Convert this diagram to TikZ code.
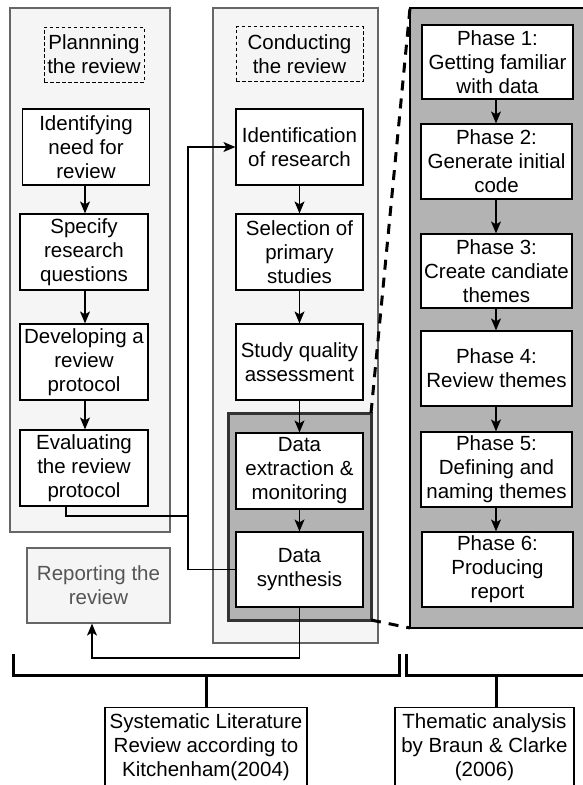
\documentclass[tikz,border=0pt]{standalone}
\usepackage{fontspec}
\setmainfont{Liberation Sans}
\usetikzlibrary{arrows.meta}
\definecolor{panelfill}{HTML}{F5F5F5}
\definecolor{panelline}{HTML}{666666}
\definecolor{darkfill}{HTML}{B3B3B3}
\definecolor{darkline}{HTML}{333333}
\definecolor{reporttext}{HTML}{555555}
\begin{document}
\begin{tikzpicture}[x=1pt,y=-1pt,
  every node/.style={font=\fontsize{20.5}{24}\selectfont, align=center, inner sep=1pt},
  panel/.style={draw=panelline, fill=panelfill, line width=1.2pt},
  darkpanel/.style={draw=darkline, fill=darkfill, line width=3pt},
  stepbox/.style={draw=black, fill=white, line width=1.2pt, minimum width=128pt, minimum height=76pt},
  phasebox/.style={draw=black, fill=white, line width=1.2pt, minimum width=151pt, minimum height=75pt},
  titlebox/.style={draw=black, line width=0.9pt, dash pattern=on 3.5pt off 2.5pt, minimum height=55pt},
  flow/.style={-{Stealth[length=12pt,width=10pt,inset=3pt]}, line width=1.2pt},
  wire/.style={line width=1.2pt},
  zoomline/.style={line width=3pt, dash pattern=on 10pt off 8pt},
  bracket/.style={line width=3pt},
  sourcebox/.style={draw=black, fill=white, line width=1.2pt, minimum height=80pt}
]
\useasboundingbox (0,0) rectangle (582,785);

% background panels
\draw[panel] (10,8) rectangle (170,532);
\draw[panel] (213,8) rectangle (378,643);
\draw[darkpanel] (228,413) rectangle (371,620);
\draw[draw=black, fill=darkfill, line width=1.5pt] (410,8) rectangle (590,628);

% zoom lines from the synthesis group to the thematic analysis panel
\draw[zoomline] (371,413) -- (410,8);
\draw[zoomline] (371,620) -- (410,628);

% planning phase
\node[titlebox, minimum width=100pt] (plan) at (94,54.5) {Plannning\\the review};
\node[stepbox, minimum width=127pt] (need) at (86,147) {Identifying\\need for\\review};
\node[stepbox] (rq) at (84,252) {Specify\\research\\questions};
\node[stepbox] (proto) at (84,362) {Developing a\\review\\protocol};
\node[stepbox] (evalp) at (84,468) {Evaluating\\the review\\protocol};
\node[draw=panelline, fill=panelfill, line width=1.2pt, text=reporttext,
      minimum width=143pt, minimum height=75pt] (rep) at (98.5,585.5) {Reporting the\\review};

% conducting phase
\node[titlebox, minimum width=127pt] (cond) at (299.5,54) {Conducting\\the review};
\node[stepbox, minimum width=127pt] (idr) at (299.5,147) {Identification\\of research};
\node[stepbox, minimum width=127pt] (sel) at (299.5,252) {Selection of\\primary\\studies};
\node[stepbox, minimum width=127pt] (sqa) at (299.5,362) {Study quality\\assessment};
\node[stepbox, minimum width=127pt] (dex) at (299.5,471) {Data\\extraction \&\\monitoring};
\node[stepbox, minimum width=127pt, minimum height=75pt] (dsyn) at (299.5,569.5) {Data\\synthesis};

% thematic analysis phases
\node[phasebox, minimum height=74pt] (p1) at (497.5,62) {Phase 1:\\Getting familiar\\with data};
\node[phasebox] (p2) at (496.5,161.5) {Phase 2:\\Generate initial\\code};
\node[phasebox, minimum height=74pt] (p3) at (496.5,271) {Phase 3:\\Create candiate\\themes};
\node[phasebox] (p4) at (496.5,368.5) {Phase 4:\\Review themes};
\node[phasebox] (p5) at (496.5,469.5) {Phase 5:\\Defining and\\naming themes};
\node[phasebox] (p6) at (497.5,569.5) {Phase 6:\\Producing\\report};

% arrows inside the planning column
\draw[flow] (need.south -| 85,0) -- (85,0 |- rq.north);
\draw[flow] (rq.south -| 85,0) -- (85,0 |- proto.north);
\draw[flow] (proto.south -| 85,0) -- (85,0 |- evalp.north);

% arrows inside the conducting column
\draw[flow] (idr) -- (sel);
\draw[flow] (sel) -- (sqa);
\draw[flow] (sqa) -- (dex);
\draw[flow] (dex) -- (dsyn);

% arrows between the phases
\draw[flow] (p1.south -| 496,0) -- (496,0 |- p2.north);
\draw[flow] (p2.south -| 496,0) -- (496,0 |- p3.north);
\draw[flow] (p3.south -| 496,0) -- (496,0 |- p4.north);
\draw[flow] (p4.south -| 496,0) -- (496,0 |- p5.north);
\draw[flow] (p5.south -| 496,0) -- (496,0 |- p6.north);

% feedback connectors
\coordinate (junction) at (188,516);
\coordinate (loopcorner) at (92,658);
\draw[flow] (evalp.south -| 66,0) |- (junction) |- (idr.west);
\draw[wire] (dsyn.west) -| (junction);
\draw[flow] (dsyn.south) |- (loopcorner) -- (loopcorner |- rep.south);

% brackets
\draw[bracket] (13,654) -- (13,675) -- (399,675) -- (399,654);
\draw[bracket] (406,654) -- (406,675) -- (590,675);
\coordinate (slrtick) at (206,675);
\coordinate (tatick) at (496,675);

\node[sourcebox, minimum width=202pt, anchor=north] (slr) at (206,707)
  {Systematic Literature\\Review according to\\Kitchenham(2004)};
\node[sourcebox, minimum width=179pt, anchor=north] (ta) at (484.5,707)
  {Thematic analysis\\by Braun \& Clarke\\(2006)};
\draw[bracket] (slrtick) -- (slrtick |- slr.north);
\draw[bracket] (tatick) -- (tatick |- ta.north);
\end{tikzpicture}
\end{document}
